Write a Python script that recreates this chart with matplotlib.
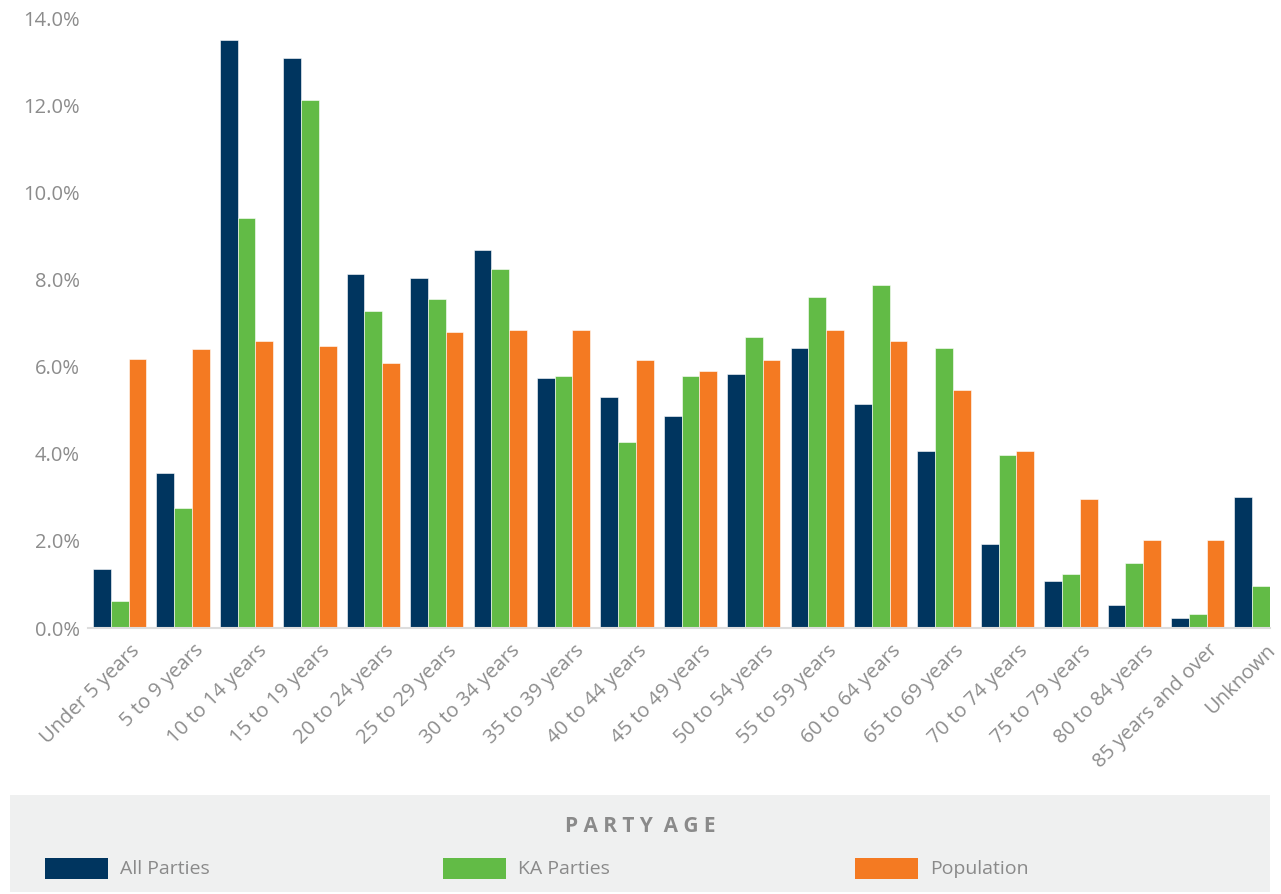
import matplotlib.pyplot as plt
import matplotlib.transforms as mtransforms
import numpy as np
from matplotlib.patches import Rectangle
from matplotlib.ticker import FuncFormatter

age_groups = [
    "Under 5 years", "5 to 9 years", "10 to 14 years", "15 to 19 years",
    "20 to 24 years", "25 to 29 years", "30 to 34 years", "35 to 39 years",
    "40 to 44 years", "45 to 49 years", "50 to 54 years", "55 to 59 years",
    "60 to 64 years", "65 to 69 years", "70 to 74 years", "75 to 79 years",
    "80 to 84 years", "85 years and over", "Unknown",
]
all_parties = [1.36, 3.55, 13.5, 13.08, 8.13, 8.03, 8.67, 5.73, 5.30, 4.87,
               5.83, 6.43, 5.14, 4.07, 1.93, 1.08, 0.53, 0.22, 3.00]
ka_parties = [0.61, 2.75, 9.42, 12.11, 7.27, 7.55, 8.24, 5.79, 4.28, 5.79,
              6.69, 7.60, 7.87, 6.42, 3.96, 1.24, 1.50, 0.33, 0.96]
population = [6.18, 6.41, 6.58, 6.47, 6.09, 6.80, 6.85, 6.85, 6.15, 5.89,
              6.15, 6.85, 6.59, 5.46, 4.07, 2.95, 2.03, 2.03, 0.0]

series_names = ["All Parties", "KA Parties", "Population"]
colors = ["#00355f", "#62bb46", "#f47a22"]
text_gray = "#8c8c8c"

plt.rcParams["font.family"] = ["Open Sans", "DejaVu Sans"]

W, H = 1281, 894
fig = plt.figure(figsize=(W / 100, H / 100), dpi=100)

ax = fig.add_axes([88 / W, 266 / H, (1270 - 88) / W, (876 - 266) / H])
x = np.arange(len(age_groups))
bw = 0.28
for i, (vals, c) in enumerate(zip([all_parties, ka_parties, population], colors)):
    ax.bar(x + (i - 1) * bw, vals, width=bw, color=c, edgecolor="white", linewidth=0.4)

ax.set_ylim(0, 14)
ax.set_xlim(-0.5, 18.14)
ax.set_yticks(np.arange(0, 15, 2))
ax.yaxis.set_major_formatter(FuncFormatter(lambda v, p: f"{v:.1f}%"))
ax.set_xticks(x)
ax.set_xticklabels(age_groups, rotation=45, ha="right", rotation_mode="anchor")
ax.tick_params(axis="both", length=0, labelsize=14.5, colors=text_gray)
ax.tick_params(axis="y", pad=6)
ax.tick_params(axis="x", pad=9)
labels = ax.get_xticklabels()
for k, lab in enumerate(labels):
    dx = 10 if k < len(labels) - 1 else 4
    shift = mtransforms.ScaledTranslation(dx / 100, 0, fig.dpi_scale_trans)
    lab.set_transform(lab.get_transform() + shift)
for s in ["top", "right", "left"]:
    ax.spines[s].set_visible(False)
ax.spines["bottom"].set_color("#dddddd")
ax.spines["bottom"].set_linewidth(1.5)

# legend panel
fig.patches.append(Rectangle((10 / W, 2 / H), 1260 / W, 97 / H,
                             transform=fig.transFigure, facecolor="#eff0f0",
                             edgecolor="none", zorder=0))
fig.text(640 / W, 1 - 827 / H, "P A R T Y  A G E", ha="center", va="center",
         fontsize=15, fontweight="bold", color="#8a8a8a")
leg_x = [45, 443, 855]
for lx, name, c in zip(leg_x, series_names, colors):
    fig.patches.append(Rectangle((lx / W, 1 - 879 / H), 63 / W, 21 / H,
                                 transform=fig.transFigure, facecolor=c,
                                 edgecolor="none"))
    fig.text((lx + 75) / W, 1 - 869 / H, name, ha="left", va="center",
             fontsize=14, color="#8a8a8a")

fig.savefig("out.png", dpi=100, facecolor="white")
